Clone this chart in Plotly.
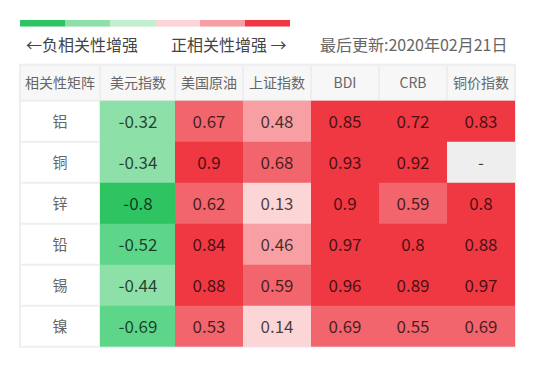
import plotly.graph_objects as go

metals = ["铝", "铜", "锌", "铅", "锡", "镍"]
indices = ["美元指数", "美国原油", "上证指数", "BDI", "CRB", "铜价指数"]
usd_index = [-0.32, -0.34, -0.8, -0.52, -0.44, -0.69]
us_crude = [0.67, 0.9, 0.62, 0.84, 0.88, 0.53]
sse_index = [0.48, 0.68, 0.13, 0.46, 0.59, 0.14]
bdi = [0.85, 0.93, 0.9, 0.97, 0.96, 0.69]
crb = [0.72, 0.92, 0.59, 0.8, 0.89, 0.55]
copper_index = [0.83, None, 0.8, 0.88, 0.97, 0.69]
legend_colors = ["#2EC462", "#8CE0A8", "#C3EFD1", "#FCD5D6", "#F79FA3", "#EF3842"]
corner_label = "相关性矩阵"
updated = "最后更新:2020年02月21日"

W, H = 536, 376
FONT = "Noto Sans CJK SC, Microsoft YaHei, sans-serif"
GRID = "#EEEEEE"

# colour bins (style): upper bounds and colours, last colour = missing value
bin_upper = [-0.7, -0.5, -0.3, 0.0, 0.3, 0.5, 0.7, 9.0]
bin_colors = ["#2EC462", "#5ED68A", "#8CE0A8", "#C3EFD1",
              "#FCD5D6", "#F79FA3", "#F2656D", "#EF3842", "#EEEEEE"]


def bin_code(v):
    if v is None:
        return len(bin_colors) - 1
    for i, ub in enumerate(bin_upper):
        if (v <= ub) if ub < 0 else (v < ub):
            return i
    return len(bin_upper) - 1


def discrete_scale(colors):
    n = len(colors)
    scale = []
    for i, c in enumerate(colors):
        scale += [[i / n, c], [(i + 1) / n, c]]
    return scale


cols = [usd_index, us_crude, sse_index, bdi, crb, copper_index]
z_body = [[bin_code(c[r]) for c in cols] for r in range(len(metals))]
t_body = [["-" if c[r] is None else str(c[r]) for c in cols] for r in range(len(metals))]

# table geometry (pixels)
col_w = [80, 75, 68, 68, 68, 68, 68]
header_h, row_h = 36, 41
x_edges = [0]
for w in col_w:
    x_edges.append(x_edges[-1] + w)
y_edges = [0, header_h]
for _ in metals:
    y_edges.append(y_edges[-1] + row_h)
tbl_left, tbl_top = 12, 56.7
tbl_w, tbl_h = x_edges[-1], y_edges[-1]

fig = go.Figure()
# header row
fig.add_trace(go.Heatmap(
    z=[[0] * (len(indices) + 1)], x=x_edges, y=y_edges[:2],
    text=[[corner_label] + indices], texttemplate="%{text}",
    textfont=dict(family=FONT, size=14, color="#666666"),
    colorscale=[[0, "#F7F7F7"], [1, "#F7F7F7"]], showscale=False,
    xgap=2, ygap=2, hoverinfo="skip",
))
# row label column
fig.add_trace(go.Heatmap(
    z=[[0] for _ in metals], x=x_edges[:2], y=y_edges[1:],
    text=[[m] for m in metals], texttemplate="%{text}",
    textfont=dict(family=FONT, size=15, color="#666666"),
    colorscale=[[0, "#FFFFFF"], [1, "#FFFFFF"]], showscale=False,
    xgap=2, ygap=2, hoverinfo="skip",
))
# correlation body
fig.add_trace(go.Heatmap(
    z=z_body, x=x_edges[1:], y=y_edges[1:],
    text=t_body, texttemplate="%{text}",
    textfont=dict(family=FONT, size=17, color="rgba(0,0,0,0.72)"),
    colorscale=discrete_scale(bin_colors), zmin=-0.5, zmax=len(bin_colors) - 0.5,
    showscale=False, xgap=0, ygap=0, hoverinfo="skip",
))
# legend colour strip
fig.add_trace(go.Heatmap(
    z=[list(range(len(legend_colors)))],
    colorscale=discrete_scale(legend_colors), zmin=-0.5, zmax=len(legend_colors) - 0.5,
    showscale=False, hoverinfo="skip", xaxis="x2", yaxis="y2",
))

fig.update_layout(
    width=W, height=H,
    margin=dict(l=0, r=0, t=0, b=0),
    paper_bgcolor="white", plot_bgcolor=GRID,
    font=dict(family=FONT),
    xaxis=dict(domain=[(tbl_left - 1) / W, (tbl_left + tbl_w + 1) / W], range=[-1, tbl_w + 1],
               visible=False, fixedrange=True),
    yaxis=dict(domain=[1 - (tbl_top + tbl_h + 1) / H, 1 - (tbl_top - 1) / H], range=[tbl_h + 1, -1],
               visible=False, fixedrange=True),
    xaxis2=dict(domain=[12 / W, 282 / W], visible=False, fixedrange=True),
    yaxis2=dict(domain=[1 - 18.6 / H, 1 - 12 / H], visible=False, fixedrange=True),
    annotations=[
        dict(text="←负相关性增强", x=16 / W, y=1 - 35.5 / H, xref="paper", yref="paper",
             xanchor="left", yanchor="middle", showarrow=False,
             font=dict(family=FONT, size=16, color="#444444")),
        dict(text="正相关性增强 →", x=161 / W, y=1 - 35.5 / H, xref="paper", yref="paper",
             xanchor="left", yanchor="middle", showarrow=False,
             font=dict(family=FONT, size=16, color="#444444")),
        dict(text=updated, x=310 / W, y=1 - 35.5 / H, xref="paper", yref="paper",
             xanchor="left", yanchor="middle", showarrow=False,
             font=dict(family=FONT, size=16, color="#666666")),
    ],
)

fig.write_html("out.html")
